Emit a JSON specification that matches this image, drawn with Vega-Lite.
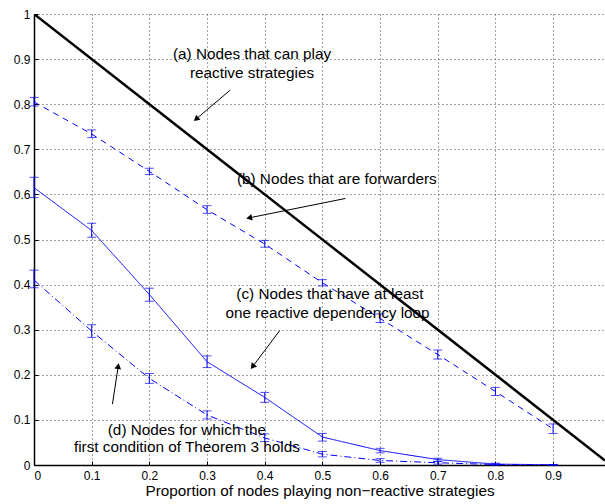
{
  "$schema": "https://vega.github.io/schema/vega-lite/v6.json",
  "width": 571,
  "height": 451,
  "autosize": {"type": "none"},
  "padding": {"left": 34, "top": 14, "right": 0, "bottom": 39},
  "background": "white",
  "config": {
    "font": "Liberation Sans",
    "view": {"stroke": null},
    "axis": {
      "domainColor": "black",
      "domainWidth": 1.5,
      "ticks": true,
      "tickSize": -4,
      "tickColor": "black",
      "tickWidth": 1,
      "grid": true,
      "gridColor": "#444",
      "gridDash": [1, 3],
      "gridWidth": 1,
      "labelColor": "black",
      "labelFontSize": 12,
      "labelFont": "Liberation Sans",
      "titleFont": "Liberation Sans",
      "titleFontWeight": "normal",
      "titleColor": "black"
    }
  },
  "datasets": {
    "frac": [
      {"series": "b", "x": 0.0, "y": 0.805, "lo": 0.796, "hi": 0.815},
      {"series": "b", "x": 0.1, "y": 0.734, "lo": 0.726, "hi": 0.743},
      {"series": "b", "x": 0.2, "y": 0.651, "lo": 0.644, "hi": 0.658},
      {"series": "b", "x": 0.3, "y": 0.566, "lo": 0.558, "hi": 0.575},
      {"series": "b", "x": 0.4, "y": 0.49, "lo": 0.483, "hi": 0.498},
      {"series": "b", "x": 0.5, "y": 0.404, "lo": 0.397, "hi": 0.411},
      {"series": "b", "x": 0.6, "y": 0.325, "lo": 0.316, "hi": 0.335},
      {"series": "b", "x": 0.7, "y": 0.245, "lo": 0.235, "hi": 0.255},
      {"series": "b", "x": 0.8, "y": 0.163, "lo": 0.154, "hi": 0.172},
      {"series": "b", "x": 0.9, "y": 0.08, "lo": 0.07, "hi": 0.091},
      {"series": "c", "x": 0.0, "y": 0.615, "lo": 0.593, "hi": 0.638},
      {"series": "c", "x": 0.1, "y": 0.52, "lo": 0.505, "hi": 0.536},
      {"series": "c", "x": 0.2, "y": 0.378, "lo": 0.363, "hi": 0.392},
      {"series": "c", "x": 0.3, "y": 0.229, "lo": 0.216, "hi": 0.242},
      {"series": "c", "x": 0.4, "y": 0.15, "lo": 0.139, "hi": 0.161},
      {"series": "c", "x": 0.5, "y": 0.062, "lo": 0.053, "hi": 0.07},
      {"series": "c", "x": 0.6, "y": 0.032, "lo": 0.027, "hi": 0.037},
      {"series": "c", "x": 0.7, "y": 0.012, "lo": 0.008, "hi": 0.015},
      {"series": "c", "x": 0.8, "y": 0.002, "lo": 0.0, "hi": 0.004},
      {"series": "c", "x": 0.9, "y": 0.0005, "lo": 0.0, "hi": 0.001},
      {"series": "d", "x": 0.0, "y": 0.41, "lo": 0.393, "hi": 0.432},
      {"series": "d", "x": 0.1, "y": 0.297, "lo": 0.283, "hi": 0.311},
      {"series": "d", "x": 0.2, "y": 0.192, "lo": 0.181, "hi": 0.203},
      {"series": "d", "x": 0.3, "y": 0.111, "lo": 0.102, "hi": 0.12},
      {"series": "d", "x": 0.4, "y": 0.06, "lo": 0.052, "hi": 0.069},
      {"series": "d", "x": 0.5, "y": 0.024, "lo": 0.018, "hi": 0.03},
      {"series": "d", "x": 0.6, "y": 0.01, "lo": 0.006, "hi": 0.014},
      {"series": "d", "x": 0.7, "y": 0.005, "lo": 0.002, "hi": 0.008},
      {"series": "d", "x": 0.8, "y": 0.001, "lo": 0.0, "hi": 0.002},
      {"series": "d", "x": 0.9, "y": 0.0, "lo": 0.0, "hi": 0.001}
    ],
    "reactive": [
      {"x": 0.0, "y": 1.0},
      {"x": 0.99, "y": 0.01}
    ],
    "arrows": [
      {"id": "a", "x": 0.340, "y": 0.831, "x2": 0.281, "y2": 0.767},
      {"id": "b", "x": 0.540, "y": 0.591, "x2": 0.373, "y2": 0.548},
      {"id": "c", "x": 0.426, "y": 0.298, "x2": 0.379, "y2": 0.218},
      {"id": "d", "x": 0.136, "y": 0.135, "x2": 0.146, "y2": 0.219}
    ],
    "labels": [
      {"text": "(a) Nodes that can play", "x": 0.378, "y": 0.911},
      {"text": "reactive strategies", "x": 0.378, "y": 0.870},
      {"text": "(b) Nodes that are forwarders", "x": 0.525, "y": 0.634},
      {"text": "(c) Nodes that have at least", "x": 0.513, "y": 0.379},
      {"text": "one reactive dependency loop", "x": 0.509, "y": 0.338},
      {"text": "(d) Nodes for which the", "x": 0.265, "y": 0.078},
      {"text": "first condition of Theorem 3 holds", "x": 0.265, "y": 0.039}
    ]
  },
  "encoding": {
    "x": {
      "field": "x", "type": "quantitative",
      "scale": {"domain": [0, 0.99], "nice": false, "zero": false},
      "axis": {
        "values": [0, 0.1, 0.2, 0.3, 0.4, 0.5, 0.6, 0.7, 0.8, 0.9],
        "format": ".1~f",
        "labelPadding": 9,
        "title": "Proportion of nodes playing non−reactive strategies",
        "titleFontSize": 15.3,
        "titlePadding": 2
      }
    },
    "y": {
      "field": "y", "type": "quantitative",
      "scale": {"domain": [0, 1], "nice": false},
      "axis": {
        "values": [0, 0.1, 0.2, 0.3, 0.4, 0.5, 0.6, 0.7, 0.8, 0.9, 1],
        "format": ".1~f",
        "labelPadding": 8,
        "title": null
      }
    }
  },
  "layer": [
    {
      "data": {"name": "frac"},
      "mark": {"type": "line", "color": "#0000ff", "strokeWidth": 1, "clip": true},
      "encoding": {
        "detail": {"field": "series"},
        "strokeDash": {
          "field": "series", "type": "nominal",
          "scale": {"domain": ["b", "c", "d"], "range": [[6, 5], [1, 0], [7, 3, 1, 3]]},
          "legend": null
        }
      }
    },
    {
      "data": {"name": "frac"},
      "mark": {"type": "errorbar", "color": "#0000ff", "ticks": {"size": 9, "color": "#0000ff"}, "rule": {"strokeWidth": 1}},
      "encoding": {
        "x": {"field": "x", "type": "quantitative"},
        "y": {"field": "lo", "type": "quantitative"},
        "y2": {"field": "hi"}
      }
    },
    {
      "data": {"name": "reactive"},
      "mark": {"type": "line", "color": "black", "strokeWidth": 2.5, "clip": true},
      "encoding": {}
    },
    {
      "data": {"name": "arrows"},
      "mark": {"type": "rule", "color": "black", "strokeWidth": 1},
      "encoding": {
        "x2": {"field": "x2"},
        "y2": {"field": "y2"}
      }
    },
    {
      "data": {"name": "arrows"},
      "transform": [{"filter": "datum.id === 'a'"}],
      "mark": {"type": "point", "shape": "triangle-up", "filled": true, "color": "black", "size": 45, "angle": 230, "opacity": 1},
      "encoding": {"x": {"field": "x2", "type": "quantitative"}, "y": {"field": "y2", "type": "quantitative"}}
    },
    {
      "data": {"name": "arrows"},
      "transform": [{"filter": "datum.id === 'b'"}],
      "mark": {"type": "point", "shape": "triangle-up", "filled": true, "color": "black", "size": 45, "angle": 258, "opacity": 1},
      "encoding": {"x": {"field": "x2", "type": "quantitative"}, "y": {"field": "y2", "type": "quantitative"}}
    },
    {
      "data": {"name": "arrows"},
      "transform": [{"filter": "datum.id === 'c'"}],
      "mark": {"type": "point", "shape": "triangle-up", "filled": true, "color": "black", "size": 45, "angle": 217, "opacity": 1},
      "encoding": {"x": {"field": "x2", "type": "quantitative"}, "y": {"field": "y2", "type": "quantitative"}}
    },
    {
      "data": {"name": "arrows"},
      "transform": [{"filter": "datum.id === 'd'"}],
      "mark": {"type": "point", "shape": "triangle-up", "filled": true, "color": "black", "size": 45, "angle": 9, "opacity": 1},
      "encoding": {"x": {"field": "x2", "type": "quantitative"}, "y": {"field": "y2", "type": "quantitative"}}
    },
    {
      "data": {"name": "labels"},
      "mark": {"type": "text", "fontSize": 15.3, "font": "Liberation Sans", "color": "black", "align": "center", "baseline": "middle"},
      "encoding": {"text": {"field": "text"}}
    }
  ]
}
